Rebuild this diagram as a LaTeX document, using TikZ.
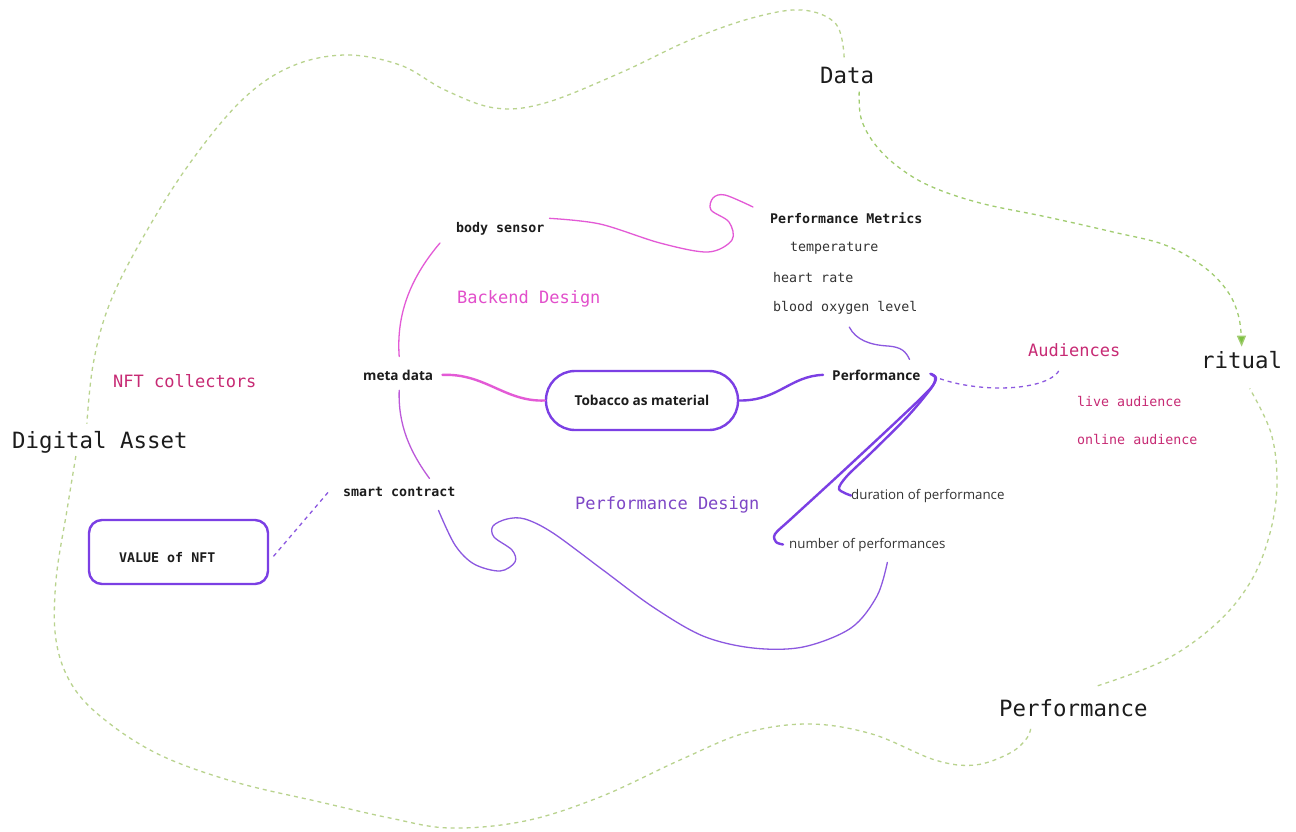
\documentclass[tikz,border=0pt]{standalone}
\usepackage{fontspec}
\usetikzlibrary{arrows.meta,calc}
\newfontfamily\plexmono{DejaVu Sans Mono}
\newfontfamily\opensans{Open Sans}

\definecolor{ink}{HTML}{1C1C1C}
\definecolor{softink}{HTML}{333333}
\definecolor{loopgreen}{HTML}{B9D38E}
\definecolor{arrowgreen}{HTML}{7DC242}
\definecolor{pinkline}{HTML}{E35AD6}
\definecolor{pinktext}{HTML}{E24FCB}
\definecolor{violet}{HTML}{7B3FE4}
\definecolor{violetthin}{HTML}{8C58E0}
\definecolor{violettext}{HTML}{7E47C6}
\definecolor{crimson}{HTML}{C72A74}

\tikzset{
  lbl/.style={inner sep=0pt, anchor=base west},
  bigmono/.style={lbl, text=ink, font=\plexmono\fontsize{22.4}{26}\selectfont},
  midmono/.style={lbl, font=\plexmono\fontsize{17}{20}\selectfont},
  smallmono/.style={lbl, text=softink, font=\plexmono\fontsize{13.3}{16}\selectfont},
  smallmonob/.style={lbl, text=ink, font=\plexmono\bfseries\fontsize{13.3}{16}\selectfont},
  sansb/.style={lbl, text=ink, font=\opensans\bfseries\fontsize{13.6}{16}\selectfont},
  sansr/.style={lbl, text=softink, font=\opensans\fontsize{13.3}{16}\selectfont},
  loop/.style={draw=loopgreen, line width=1.3pt, dash pattern=on 4pt off 4pt},
  pinkthick/.style={draw=pinkline, line width=2.4pt, line cap=round},
  pinkthin/.style={draw=pinkline, line width=1.3pt, line cap=round},
  violetthick/.style={draw=violet, line width=2.4pt, line cap=round},
  violetline/.style={draw=violetthin, line width=1.3pt, line cap=round},
  violetdash/.style={draw=violetthin, line width=1.3pt, dash pattern=on 4pt off 4pt},
  pill/.style={draw=violet, line width=2.4pt, fill=white, rounded corners=29pt,
    minimum width=192pt, minimum height=59pt, inner sep=0pt,
    text=ink, font=\opensans\bfseries\fontsize{13.6}{16}\selectfont},
  valuebox/.style={draw=violet, line width=2.4pt, rounded corners=13pt,
    minimum width=179pt, minimum height=64pt, inner sep=0pt},
}

\begin{document}
\begin{tikzpicture}[x=1pt,y=-1pt]
\useasboundingbox[fill=white] (0,0) rectangle (1296,831);

% outer themes
\node[bigmono] (data) at (820,83) {Data};
\node[bigmono] (digital) at (12,448) {Digital Asset};
\node[bigmono] (ritual) at (1201,368) {ritual};
\node[bigmono] (perfbig) at (999,716) {Performance};

% backend branch
\node[smallmonob] (body) at (456,232) {body sensor};
\node[smallmonob] (metrics) at (770,223) {Performance Metrics};
\node[smallmono] (temp) at (790,251) {temperature};
\node[smallmono] (heart) at (773,282) {heart rate};
\node[smallmono] (oxygen) at (773,311) {blood oxygen level};
\node[midmono, text=pinktext] (backend) at (457,303) {Backend Design};

% centre
\node[sansb] (meta) at (363,380) {meta data};
\node[pill] (tob) at (642,400.5) {Tobacco as material};
\node[sansb] (perf) at (832,380) {Performance};

% performance branch
\node[midmono, text=violettext] (pdesign) at (575,509) {Performance Design};
\node[sansr] (duration) at (851,499) {duration of performance};
\node[sansr] (number) at (789,548) {number of performances};

% audiences
\node[midmono, text=crimson] (aud) at (1028,356) {Audiences};
\node[smallmono, text=crimson] (live) at (1077,406) {live audience};
\node[smallmono, text=crimson] (online) at (1077,444) {online audience};

% NFT side
\node[midmono, text=crimson] (collectors) at (113,387) {NFT collectors};
\node[smallmonob] (smart) at (343,496) {smart contract};
\node[valuebox] (valbox) at (178.5,552) {};
\node[smallmonob] (value) at (119,562) {VALUE of NFT};

% ---- green dashed outline ----
\coordinate (gA0) at ($(data.north)+(-3,-9)$);
\coordinate (gA1) at ($(digital.north)+(-13,-7)$);
\draw[loop] plot[smooth, tension=0.6] coordinates {(gA0) (836,24) (802,10) (752,18) (690,40)
  (620,73) (545,103) (495,108) (445,90) (400,65) (345,55) (290,67) (240,102) (185,170)
  (137,248) (108,308) (93,365) (gA1)};

\coordinate (gB0) at ($(digital.south)+(-24,3)$);
\coordinate (gB1) at ($(perfbig.south west)+(32,10)$);
\draw[loop] plot[smooth, tension=0.6] coordinates {(gB0) (67,510) (56,580) (56,640) (72,685)
  (105,720) (160,755) (235,782) (320,802) (390,818) (450,828) (525,821) (600,797)
  (680,760) (745,733) (809,724) (872,734) (935,760) (975,765) (1010,753) (1027,738) (gB1)};

\coordinate (gC0) at ($(perfbig.north east)+(-50,-13)$);
\coordinate (gC1) at ($(ritual.south)+(8,20)$);
\draw[loop] plot[smooth, tension=0.6] coordinates {(gC0) (1165,660) (1217,623) (1251,581)
  (1270,533) (1277,483) (1271,433) (gC1)};

\coordinate (gD0) at ($(data.south)+(12,8)$);
\coordinate (gD1) at ($(ritual.north)+(0,-4)$);
\draw[loop, -{Triangle[width=9pt,length=11pt,fill=arrowgreen,sep=0pt]}, arrowgreen!40!loopgreen]
  plot[smooth, tension=0.6] coordinates {(gD0) (861,118) (874,143) (897,166) (930,186)
  (980,203) (1047,217) (1113,232) (1165,245) (1204,267) (1228,292) (1239,318) (gD1)};

% ---- connectors ----
% backend (pink)
\draw[pinkthick] ($(meta.east)+(9,0)$) .. controls (485,373) and (505,402) .. (tob.west);
\draw[pinkthin] ($(meta.north)+(1,-13)$) .. controls (396,312) and (412,276) .. ($(body.south west)+(-16,8)$);
\draw[draw=pinkline!55!violetthin, line width=1.3pt, line cap=round]
  ($(meta.south)+(1,10)$) .. controls (398,425) and (410,452) .. ($(smart.north east)+(-26,-8)$);
\draw[pinkthin] plot[smooth, tension=0.55] coordinates {($(body.east)+(5,-10)$) (600,224)
  (660,243) (708,252) (732,240) (729,222) (711,210) (713,198) (725,195) ($(metrics.north west)+(-17,-5)$)};

% performance side (violet)
\draw[violetthick] (tob.east) .. controls (778,401) and (790,376) .. ($(perf.west)+(-9,0)$);
\draw[violetline] ($(oxygen.south)+(4,13)$) .. controls (856,340) and (870,345) .. (888,346)
  .. controls (902,347) and (906,352) .. ($(perf.north east)+(-11,-10)$);
\draw[violetdash] ($(perf.east)+(12,1)$) .. controls (975,394) and (1050,392) .. ($(aud.south)+(-14,12)$);
\draw[violetthick] plot[smooth, tension=0.5] coordinates {($(perf.east)+(10,-1)$) (935,377)
  (932,387) (908,416) (872,452) (847,476) (839,489) (duration.west)};
\draw[violetthick] plot[smooth, tension=0.5] coordinates {($(perf.east)+(10,-1)$) (936,378)
  (930,389) (898,420) (840,474) (792,518) (775,534) (776,542) ($(number.west)+(-6,0)$)};
\draw[violetline] plot[smooth, tension=0.55] coordinates {($(smart.south east)+(-17,14)$)
  (455,545) (474,564) (500,571) (515,562) (512,550) (494,537) (493,526) (507,519) (525,519)
  (553,533) (603,570) (653,607) (703,636) (753,648) (803,647) (851,628) (877,596)
  ($(number.south)+(20,11)$)};

% NFT side
\draw[violetdash] ($(smart.west)+(-15,1)$) -- ($(valbox.east)+(2,7)$);

\end{tikzpicture}
\end{document}
